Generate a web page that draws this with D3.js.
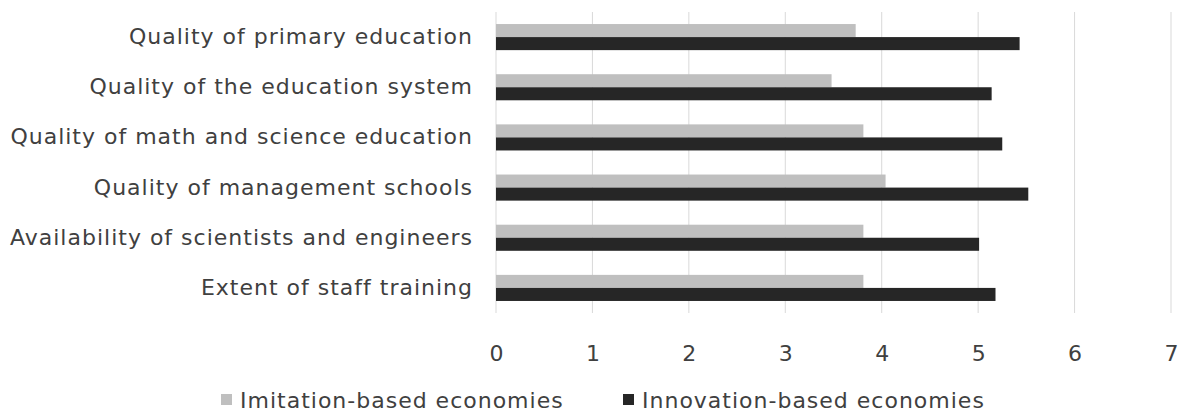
<!DOCTYPE html>
<html>
<head>
<meta charset="utf-8">
<script src="https://cdn.jsdelivr.net/npm/d3@7"></script>
<style>
  body { margin: 0; background: #fff; }
  svg { display: block; }
  svg text { font-family: "DejaVu Sans", Verdana, sans-serif; }
</style>
</head>
<body>
<svg id="chart"></svg>
<script>
// data
var categories = [
    "Quality of primary education",
    "Quality of the education system",
    "Quality of math and science education",
    "Quality of management schools",
    "Availability of scientists and engineers",
    "Extent of staff training"
];
var seriesNames = ["Imitation-based economies", "Innovation-based economies"];
var imitation = [3.73, 3.48, 3.81, 4.04, 3.81, 3.81];
var innovation = [5.43, 5.14, 5.25, 5.52, 5.01, 5.18];
var tickValues = [0, 1, 2, 3, 4, 5, 6, 7];
var colors = ["#bfbfbf", "#262626"];

var screen = {width: 1183, height: 414};
var margins = {left: 496, right: 12, top: 12, bottom: 101};
var graph = {
    width: screen.width - margins.left - margins.right,
    height: screen.height - margins.top - margins.bottom
};

var svg = d3.select("#chart")
    .attr("width", screen.width)
    .attr("height", screen.height);

var target = svg.append("g")
    .attr("transform", "translate(" + margins.left + "," + margins.top + ")");

var xScale = d3.scaleLinear()
    .domain([0, 7])
    .range([0, graph.width]);

var yScale = d3.scaleBand()
    .domain(categories)
    .range([0, graph.height])
    .paddingInner(0.48)
    .paddingOuter(0.24);

var inner = d3.scaleBand()
    .domain(seriesNames)
    .range([0, yScale.bandwidth()]);

// gridlines
target.append("g")
    .selectAll("line")
    .data(tickValues)
    .enter()
    .append("line")
    .attr("x1", function(d) { return xScale(d); })
    .attr("x2", function(d) { return xScale(d); })
    .attr("y1", 0)
    .attr("y2", graph.height)
    .attr("stroke", "#d9d9d9")
    .attr("stroke-width", 1);

var rows = categories.map(function(c, i) {
    return {cat: c, vals: [imitation[i], innovation[i]]};
});

var groups = target.selectAll(".row")
    .data(rows)
    .enter()
    .append("g")
    .attr("class", "row")
    .attr("transform", function(d) { return "translate(0," + yScale(d.cat) + ")"; });

groups.selectAll("rect")
    .data(function(d) {
        return d.vals.map(function(v, j) { return {name: seriesNames[j], value: v, j: j}; });
    })
    .enter()
    .append("rect")
    .attr("x", xScale(0))
    .attr("y", function(d) { return inner(d.name); })
    .attr("height", inner.bandwidth())
    .attr("width", function(d) { return xScale(d.value) - xScale(0); })
    .attr("fill", function(d) { return colors[d.j]; });

// x axis (labels only)
var xAxis = d3.axisBottom(xScale)
    .tickValues(tickValues)
    .tickSize(0)
    .tickPadding(32)
    .tickFormat(d3.format("d"));

var xg = target.append("g")
    .attr("transform", "translate(0," + graph.height + ")")
    .call(xAxis);
xg.select(".domain").remove();
xg.selectAll("text")
    .attr("fill", "#404040")
    .style("font-size", "22px");

// y axis (category labels)
var yAxis = d3.axisLeft(yScale)
    .tickSize(0)
    .tickPadding(23);

var yg = target.append("g").call(yAxis);
yg.select(".domain").remove();
yg.selectAll("text")
    .attr("fill", "#404040")
    .style("font-size", "22px")
    .style("letter-spacing", "1px");

// legend
var legendX = [221, 623];
var legend = svg.append("g")
    .selectAll("g")
    .data(seriesNames)
    .enter()
    .append("g")
    .attr("transform", function(d, i) { return "translate(" + legendX[i] + ",396)"; });

legend.append("rect")
    .attr("width", 11)
    .attr("height", 11)
    .attr("y", -2)
    .attr("fill", function(d, i) { return colors[i]; });

legend.append("text")
    .attr("x", 19)
    .attr("y", 4)
    .attr("dy", "0.35em")
    .attr("fill", "#404040")
    .style("font-size", "22px")
    .style("letter-spacing", "1px")
    .text(function(d) { return d; });
</script>
</body>
</html>
